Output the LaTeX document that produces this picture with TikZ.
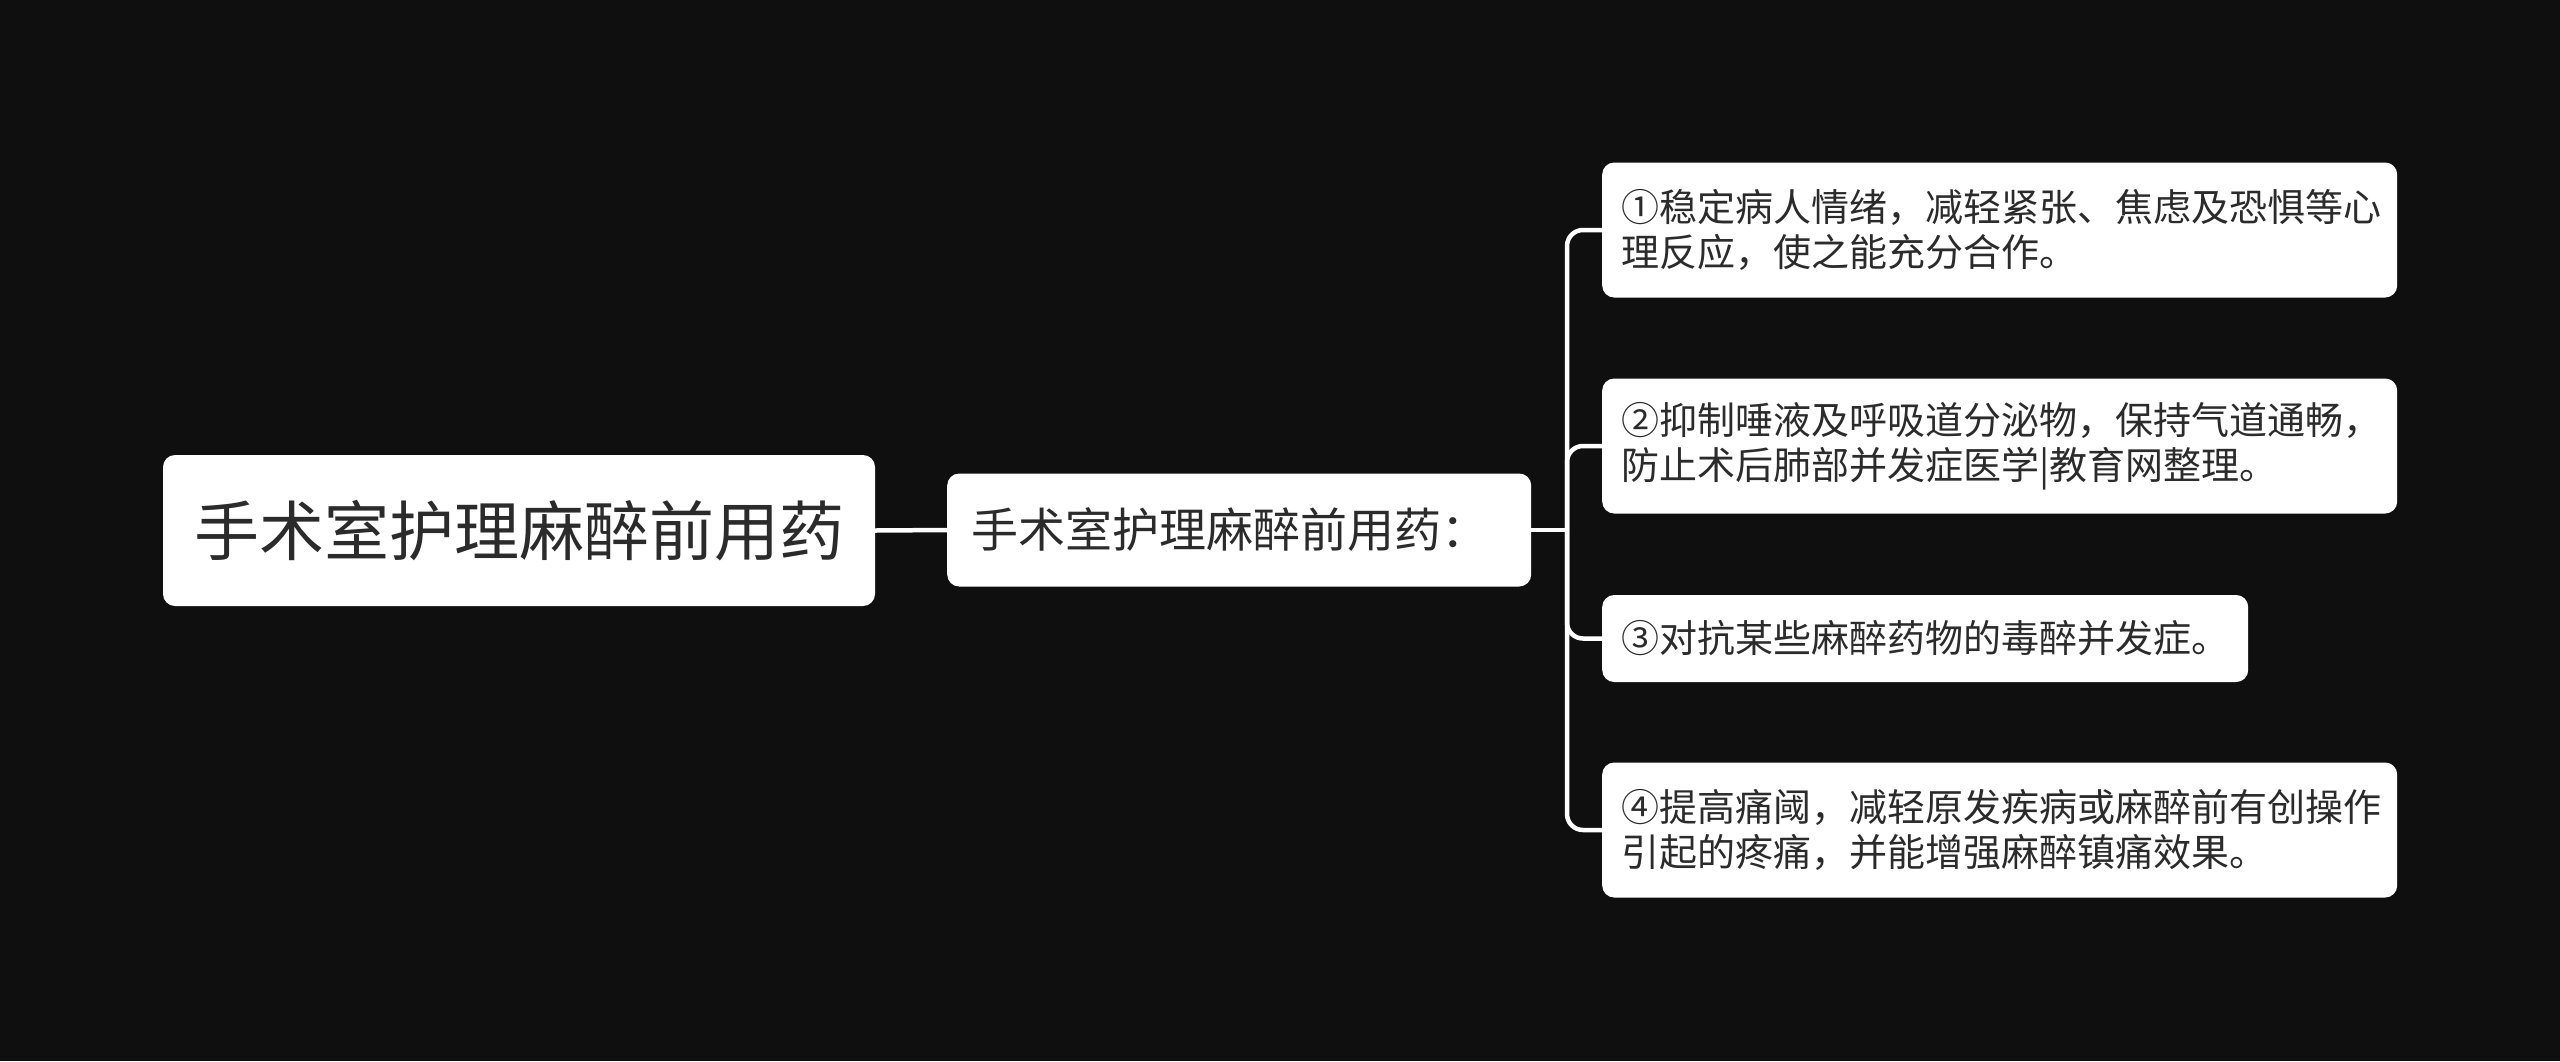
\documentclass[tikz,border=0pt]{standalone}
\usepackage{fontspec}
\setmainfont{Noto Sans CJK SC}
\definecolor{bgc}{HTML}{0F0F0F}
\definecolor{txtc}{HTML}{2B2B2B}
\begin{document}
\begin{tikzpicture}[x=1pt,y=-1pt,
  box/.style={fill=white, rounded corners=12pt, text=txtc, inner sep=0pt},
  leaf/.style={box, anchor=west, inner xsep=19pt, inner ysep=0pt, text width=757pt, align=left, minimum height=135pt, font=\fontsize{38}{45}\selectfont},
  conn/.style={draw=white, line width=4.5pt, rounded corners=16pt}]
\fill[bgc] (0,0) rectangle (2560,1061);
\useasboundingbox (0,0) rectangle (2560,1061);
\node[box, minimum width=712pt, minimum height=151pt, font=\fontsize{65}{78}\selectfont] (root) at (519,530.5) {手术室护理麻醉前用药};
\node[box, anchor=west, inner xsep=24pt, text width=536pt, align=left, minimum height=113pt, font=\fontsize{47}{56}\selectfont] (mid) at (947,530) {手术室护理麻醉前用药：};
\node[leaf] (n1) at (1602,230) {①稳定病人情绪，减轻紧张、焦虑及恐惧等心\\理反应，使之能充分合作。};
\node[leaf] (n2) at (1602,446) {②抑制唾液及呼吸道分泌物，保持气道通畅，\\防止术后肺部并发症医学|教育网整理。};
\node[box, anchor=west, inner xsep=19pt, inner ysep=0pt, minimum height=87pt, font=\fontsize{38}{45}\selectfont] (n3) at (1602,638.5) {③对抗某些麻醉药物的毒醉并发症。};
\node[leaf] (n4) at (1602,830) {④提高痛阈，减轻原发疾病或麻醉前有创操作\\引起的疼痛，并能增强麻醉镇痛效果。};
\coordinate (j) at (1567,530);
\draw[conn] (root.east) -- (mid.west);
\draw[conn] (mid.east) -- (j);
\draw[conn] (j) |- (n1.west);
\draw[conn] (j) |- (n2.west);
\draw[conn] (j) |- (n3.west);
\draw[conn] (j) |- (n4.west);
\end{tikzpicture}
\end{document}
